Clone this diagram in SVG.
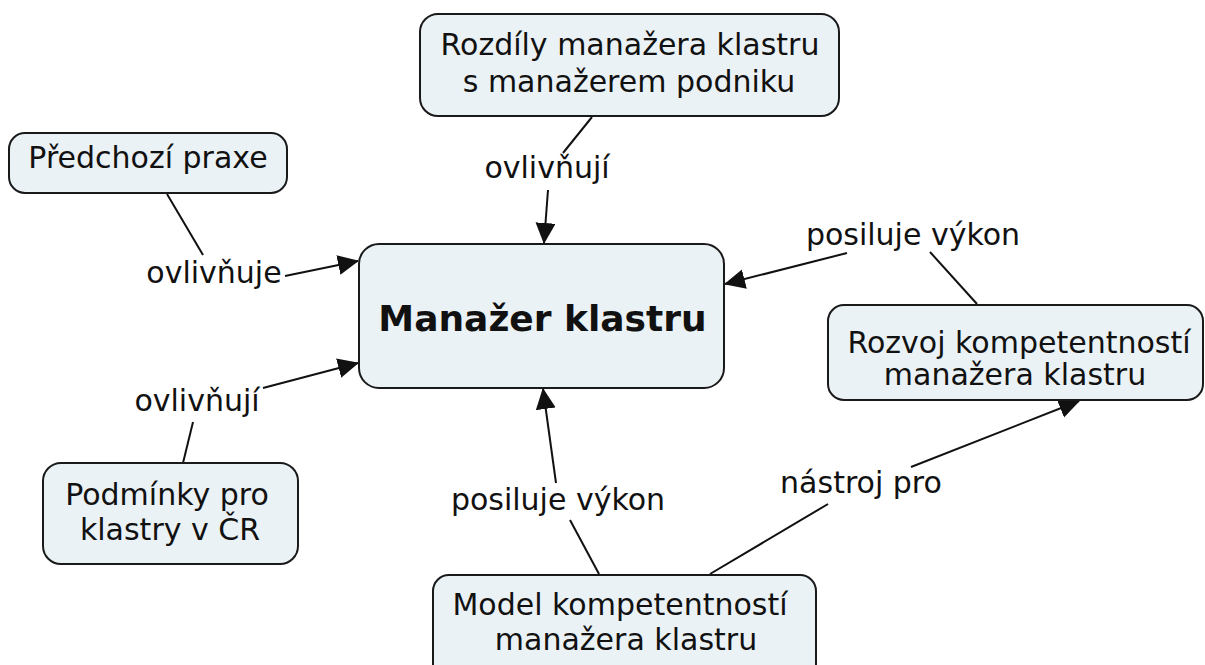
<svg xmlns="http://www.w3.org/2000/svg" width="1205" height="665" viewBox="0 0 1205 665">
<style>
.box{fill:#ebf2f5;stroke:#1a1a1a;stroke-width:2}
.t{font-family:"DejaVu Sans",Verdana,sans-serif;font-size:30px;fill:#111;text-anchor:middle}
.b{font-weight:bold;font-size:36px}
.ln{stroke:#111;stroke-width:2;fill:none}
</style>
<defs>
<marker id="ah" markerUnits="userSpaceOnUse" markerWidth="22" markerHeight="22" refX="20" refY="10" orient="auto">
<path d="M0,0 L21,10 L0,20 z" fill="#111"/>
</marker>
</defs>
<rect width="1205" height="665" fill="#fff"/>
<g id="connectors">
<line class="ln" x1="167" y1="194" x2="203" y2="255"/>
<line class="ln" x1="285" y1="276" x2="358" y2="261" marker-end="url(#ah)"/>
<line class="ln" x1="592" y1="117" x2="563" y2="153"/>
<line class="ln" x1="548" y1="190" x2="544" y2="243" marker-end="url(#ah)"/>
<line class="ln" x1="847" y1="253" x2="725" y2="284" marker-end="url(#ah)"/>
<line class="ln" x1="930" y1="252" x2="977" y2="304"/>
<line class="ln" x1="263" y1="388" x2="358" y2="363" marker-end="url(#ah)"/>
<line class="ln" x1="193" y1="422" x2="183" y2="463"/>
<line class="ln" x1="556" y1="483" x2="543" y2="389" marker-end="url(#ah)"/>
<line class="ln" x1="570" y1="520" x2="599" y2="574"/>
<line class="ln" x1="710" y1="574" x2="828" y2="504"/>
<line class="ln" x1="911" y1="467" x2="1079" y2="401" marker-end="url(#ah)"/>
</g>
<g id="lbl-ovlivnuje"><text class="t" x="214" y="283">ovlivňuje</text></g>
<g id="lbl-ovlivnuji-top"><text class="t" x="547" y="178">ovlivňují</text></g>
<g id="lbl-posiluje-right"><text class="t" x="913" y="245">posiluje výkon</text></g>
<g id="lbl-ovlivnuji-left"><text class="t" x="197" y="411">ovlivňují</text></g>
<g id="lbl-posiluje-bottom"><text class="t" x="558" y="510">posiluje výkon</text></g>
<g id="lbl-nastroj"><text class="t" x="861" y="493">nástroj pro</text></g>
<g id="node-manazer">
<rect class="box" x="359" y="244" width="365" height="144" rx="20"/>
<text class="t b" x="542.5" y="331">Manažer klastru</text>
</g>
<g id="node-predchozi">
<rect class="box" x="9" y="133" width="278" height="60" rx="16"/>
<text class="t" x="148" y="168">Předchozí praxe</text>
</g>
<g id="node-rozdily">
<rect class="box" x="420" y="14" width="419" height="102" rx="18"/>
<text class="t" x="630" y="55">Rozdíly manažera klastru</text>
<text class="t" x="629" y="92">s manažerem podniku</text>
</g>
<g id="node-rozvoj">
<rect class="box" x="828" y="305" width="375" height="95" rx="16"/>
<text class="t" x="1019" y="353">Rozvoj kompetentností</text>
<text class="t" x="1015" y="385">manažera klastru</text>
</g>
<g id="node-podminky">
<rect class="box" x="43" y="463" width="255" height="101" rx="18"/>
<text class="t" x="167" y="505">Podmínky pro</text>
<text class="t" x="170" y="540">klastry v ČR</text>
</g>
<g id="node-model">
<rect class="box" x="433" y="575" width="383" height="110" rx="16"/>
<text class="t" x="620" y="615">Model kompetentností</text>
<text class="t" x="626" y="650">manažera klastru</text>
</g>
</svg>
